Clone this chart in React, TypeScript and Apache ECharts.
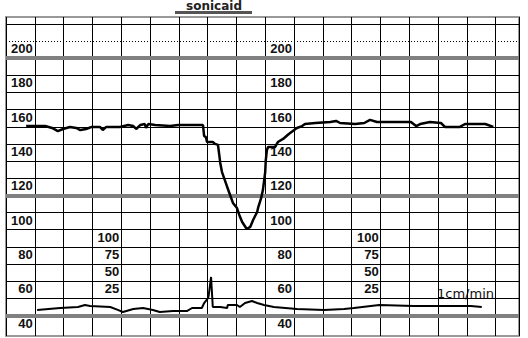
import React, { useEffect, useRef } from "react";
import * as echarts from "echarts";

// FHR trace (time in minutes, bpm)
const fhrTime = [0.35,0.68,0.8,0.9,0.99,1.11,1.22,1.29,1.39,1.49,1.63,1.68,1.74,1.98,2.12,2.21,2.26,2.33,2.41,2.43,2.47,2.59,2.85,2.99,3.19,3.42,3.44,3.47,3.49,3.59,3.63,3.68,3.72,3.75,3.84,3.89,3.94,4.01,4.05,4.1,4.18,4.24,4.29,4.36,4.38,4.43,4.46,4.5,4.51,4.53,4.55,4.67,4.72,4.81,4.91,4.98,5.05,5.14,5.19,5.37,5.63,5.73,5.8,6.06,6.22,6.32,6.44,6.75,7.03,7.12,7.19,7.36,7.55,7.62,7.88,7.97,8.32,8.46];
const fhrBpm = [160.4,160.4,159.3,157.5,158.7,159.9,159.3,158.1,158.7,159.9,159.9,158.1,159.9,159.9,161,160.4,158.7,161,161.6,159.3,161.6,161,160.4,161,161,161,154.6,154,151.1,151.1,150,149.4,138.9,133.6,124.9,120.2,115.6,112.6,108.6,104.5,100.4,101.6,105.6,110.3,113.2,118.5,123.1,133.6,140.6,146.5,148.2,148.2,151.1,152.9,155.8,157.5,159.3,160.4,161.6,162.2,162.8,163.4,162.2,161.6,162.2,164,162.8,162.8,162.8,160.4,161.6,162.8,162.2,159.9,159.9,161.6,161.6,159.9];

// Toco trace (time in minutes, toco units 0-100)
const tocoTime = [0.54,0.94,1.25,1.37,1.46,1.81,1.94,2.03,2.21,2.38,2.55,2.67,2.9,3.14,3.23,3.4,3.44,3.51,3.52,3.56,3.58,3.59,3.72,3.84,3.85,4.01,4.06,4.15,4.27,4.36,4.48,4.65,5.05,5.52,5.87,6.04,6.48,7.08,7.66,8.07,8.26];
const tocoVal = [8,10.8,12.2,15.2,13.7,12.2,8,5,9.4,10.8,8,5,6.4,6.4,10.8,10.8,18.1,25.4,29.8,56,26.9,12.2,12.2,10.8,15.2,15.2,12.2,18.1,21,18.1,15.2,12.2,9.4,8,9.4,10.8,15.2,13.7,13.7,13.7,12.2];

// Axis labels
const fhrLabels = [40, 60, 80, 100, 120, 140, 160, 180, 200];
const tocoLabels = [25, 50, 75, 100];

// Grid levels (bpm)
const normalLevels = [60, 70, 80, 90, 100, 110, 130, 140, 150, 160, 170, 180, 190, 220];
const dottedLevels = [210];
const thickLevels = [50, 120, 200];

const FHR_MIN = 38;
const FHR_MAX = 224;
// toco 0 sits on the 50 bpm line, 25 units per 10 bpm
const TOCO_MIN = (FHR_MIN - 50) / 0.4;
const TOCO_MAX = (FHR_MAX - 50) / 0.4;

const labelStyle = {
  fontFamily: "Liberation Sans",
  fontSize: 13,
  fontWeight: "bold" as const,
  color: "#111",
  lineHeight: 13,
  verticalAlign: "bottom" as const,
  padding: [0, 0, 3, 0],
  margin: 2,
};

function yLabelAxis(offset: number, min: number, max: number, values: number[]) {
  return {
    type: "value",
    position: "left",
    offset,
    min,
    max,
    axisLine: { show: false },
    axisTick: { show: false },
    splitLine: { show: false },
    axisLabel: { ...labelStyle, customValues: values },
  };
}

export default function App() {
  const ref = useRef<HTMLDivElement>(null);
  useEffect(() => {
    if (!ref.current) return;
    const chart = echarts.init(ref.current, null, { renderer: "svg" });
    const gridLines = [
      ...normalLevels.map((v) => ({ yAxis: v, lineStyle: { color: "#000", width: 1, type: "solid" } })),
      ...dottedLevels.map((v) => ({ yAxis: v, lineStyle: { color: "#000", width: 1, type: [1, 2] } })),
      ...thickLevels.map((v) => ({ yAxis: v, lineStyle: { color: "#808080", width: 4, type: "solid" } })),
    ];
    chart.setOption({
      animation: false,
      grid: {
        left: 6,
        right: 9,
        top: 17,
        bottom: 2,
        show: true,
        borderColor: "#999",
        borderWidth: 2,
        backgroundColor: "#fff",
      },
      xAxis: {
        type: "value",
        min: 0,
        max: 8.906,
        interval: 0.5,
        axisLine: { show: false },
        axisTick: { show: false },
        axisLabel: { show: false },
        splitLine: { show: true, lineStyle: { color: "#000", width: 1 } },
      },
      yAxis: [
        yLabelAxis(-28.8, FHR_MIN, FHR_MAX, fhrLabels),
        yLabelAxis(-288, FHR_MIN, FHR_MAX, fhrLabels),
        yLabelAxis(-115.3, TOCO_MIN, TOCO_MAX, tocoLabels),
        yLabelAxis(-374.8, TOCO_MIN, TOCO_MAX, tocoLabels),
      ],
      graphic: [
        {
          type: "text",
          x: 214,
          y: 0,
          style: {
            text: "sonicaid",
            fontFamily: "DejaVu Sans",
            fontWeight: "bold",
            fontSize: 12,
            lineHeight: 11,
            fill: "#222",
            align: "center",
            verticalAlign: "top",
          },
        },
        { type: "rect", shape: { x: 175, y: 11, width: 77, height: 3 }, style: { fill: "#555" } },
        {
          type: "text",
          x: 494,
          y: 293,
          style: {
            text: "1cm/min",
            fontFamily: "DejaVu Sans",
            fontSize: 13,
            fill: "#111",
            align: "right",
            verticalAlign: "middle",
          },
        },
      ],
      series: [
        {
          type: "line",
          yAxisIndex: 0,
          data: [],
          z: 1,
          markLine: {
            silent: true,
            symbol: ["none", "none"],
            label: { show: false },
            data: gridLines,
          },
        },
        {
          type: "line",
          yAxisIndex: 0,
          z: 5,
          showSymbol: false,
          data: fhrTime.map((t, i) => [t, fhrBpm[i]]),
          lineStyle: { color: "#000", width: 2.5 },
        },
        {
          type: "line",
          yAxisIndex: 2,
          z: 5,
          showSymbol: false,
          data: tocoTime.map((t, i) => [t, tocoVal[i]]),
          lineStyle: { color: "#000", width: 2 },
        },
      ],
    });
    return () => chart.dispose();
  }, []);
  return (
    <div
      ref={ref}
      style={{ position: "absolute", left: 0, top: 0, width: 528, height: 338, background: "#fff" }}
    />
  );
}
